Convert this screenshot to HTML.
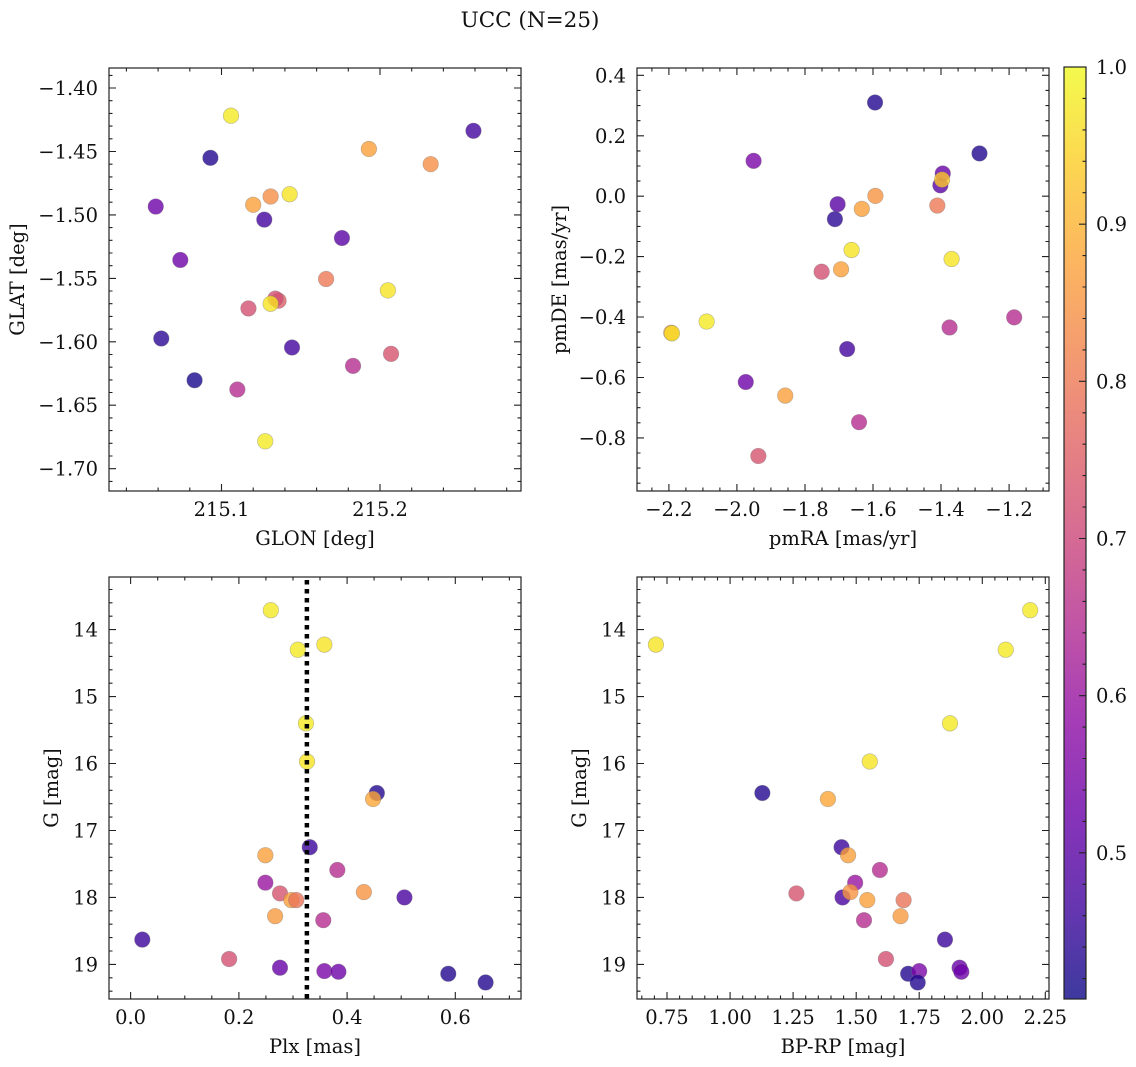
<!DOCTYPE html>
<html><head><meta charset="utf-8">
<style>
html,body{margin:0;padding:0;background:#fff;}
svg{display:block;font-family:"DejaVu Serif","Liberation Serif",serif;}
</style></head>
<body>
<svg id="fig" width="1136" height="1067" viewBox="0 0 1136 1067" xmlns="http://www.w3.org/2000/svg">
<text x="530" y="27" font-size="21.5" text-anchor="middle" fill="#111">UCC (N=25)</text>
</svg>
<script>
// ---- data: sky positions ----
const glon = [215.106,215.259,215.093,215.193,215.232,215.0585,215.120,215.131,215.143,215.127,215.176,215.074,215.166,215.205,215.136,215.134,215.131,215.117,215.062,215.1445,215.207,215.183,215.083,215.110,215.1276];
const glat = [-1.4218,-1.4337,-1.4550,-1.448,-1.460,-1.4934,-1.492,-1.4855,-1.4837,-1.5037,-1.5182,-1.5355,-1.5505,-1.5595,-1.5676,-1.566,-1.570,-1.5737,-1.5974,-1.6045,-1.6095,-1.619,-1.6303,-1.6376,-1.6784];
const probSky = [0.98,0.47,0.43,0.87,0.84,0.53,0.87,0.84,0.97,0.47,0.50,0.53,0.80,0.97,0.75,0.72,0.97,0.72,0.44,0.47,0.73,0.65,0.42,0.65,0.98];
// ---- data: proper motions ----
const pmra = [-1.594,-1.287,-1.951,-1.395,-1.402,-1.397,-1.593,-1.704,-1.633,-1.712,-1.411,-1.663,-1.694,-1.751,-1.369,-2.089,-2.193,-2.191,-1.185,-1.375,-1.676,-1.974,-1.858,-1.641,-1.937];
const pmde = [0.310,0.1415,0.117,0.075,0.036,0.055,0.001,-0.0265,-0.042,-0.076,-0.031,-0.178,-0.242,-0.250,-0.208,-0.415,-0.452,-0.454,-0.401,-0.4345,-0.506,-0.615,-0.660,-0.748,-0.860];
const probPm = [0.43,0.43,0.55,0.52,0.50,0.93,0.85,0.50,0.87,0.44,0.80,0.97,0.87,0.72,0.97,0.98,0.87,0.96,0.65,0.65,0.47,0.53,0.87,0.65,0.73];
// ---- data: photometry ----
const plx  = [0.358,0.259,0.309,0.324,0.326,0.455,0.448,0.331,0.249,0.382,0.249,0.276,0.506,0.431,0.297,0.306,0.267,0.356,0.0216,0.182,0.587,0.358,0.656,0.276,0.384];
const bprp = [0.706,2.19,2.093,1.872,1.554,1.128,1.388,1.442,1.468,1.594,1.496,1.263,1.446,1.477,1.544,1.688,1.676,1.531,1.852,1.618,1.706,1.750,1.744,1.910,1.917];
const gmag = [14.224,13.71,14.30,15.40,15.97,16.44,16.53,17.25,17.37,17.59,17.78,17.94,18.00,17.92,18.04,18.04,18.28,18.34,18.63,18.92,19.14,19.10,19.27,19.05,19.11];
const probPh = [0.97,0.98,0.98,0.98,0.97,0.43,0.88,0.46,0.87,0.65,0.60,0.73,0.48,0.85,0.87,0.79,0.86,0.65,0.46,0.72,0.43,0.55,0.43,0.52,0.53];
const plxMedian = 0.3257;
// ---- tick labels ----
const glonTicks = [215.1,215.2];
const glatTicks = [-1.40,-1.45,-1.50,-1.55,-1.60,-1.65,-1.70];
const pmraTicks = [-2.2,-2.0,-1.8,-1.6,-1.4,-1.2];
const pmdeTicks = [0.4,0.2,0.0,-0.2,-0.4,-0.6,-0.8];
const plxTicks = [0.0,0.2,0.4,0.6];
const bprpTicks = [0.75,1.00,1.25,1.50,1.75,2.00,2.25];
const gTicks = [14,15,16,17,18,19];
const cbarTicks = [0.5,0.6,0.7,0.8,0.9,1.0];
const cmin = 0.407, cmax = 1.0;

const FS = 19.5;
const NS = "http://www.w3.org/2000/svg";
const svg = document.getElementById('fig');
function mk(tag, attrs, parent){
  const e = document.createElementNS(NS, tag);
  for (const k in attrs) e.setAttribute(k, attrs[k]);
  (parent||svg).appendChild(e);
  return e;
}
const stops = [[0,13,8,135],[0.1,65,4,157],[0.2,106,0,168],[0.3,143,13,164],[0.4,177,42,144],[0.5,204,71,120],[0.6,225,100,98],[0.7,242,132,75],[0.8,252,166,54],[0.9,252,206,37],[1,240,249,33]];
function plasma(t){
  t = Math.max(0, Math.min(1, t));
  for (let i=1;i<stops.length;i++){
    if (t <= stops[i][0]){
      const a = stops[i-1], b = stops[i], f = (t-a[0])/(b[0]-a[0]);
      return `rgb(${Math.round(a[1]+(b[1]-a[1])*f)},${Math.round(a[2]+(b[2]-a[2])*f)},${Math.round(a[3]+(b[3]-a[3])*f)})`;
    }
  }
  return 'rgb(240,249,33)';
}
function cnorm(v){ return (v-cmin)/(cmax-cmin); }
function fmt(v, d){ const s = v.toFixed(d); return s.startsWith('-') ? '\u2212'+s.slice(1) : s; }

function panel(o){
  const g = mk('g', {});
  
  
  const X = v => o.x0 + (v - o.xmin)/(o.xmax - o.xmin)*(o.x1 - o.x0);
  const Y = o.yrev ? (v => o.y0 + (v - o.ymin)/(o.ymax - o.ymin)*(o.y1 - o.y0))
                   : (v => o.y1 - (v - o.ymin)/(o.ymax - o.ymin)*(o.y1 - o.y0));
  for (let i=0;i<o.xs.length;i++){
    const c = mk('circle', {cx:X(o.xs[i]).toFixed(2), cy:Y(o.ys[i]).toFixed(2), r:7.8, fill:plasma(cnorm(o.cs[i])), 'fill-opacity':0.8, stroke:'#777', 'stroke-opacity':0.5, 'stroke-width':0.6}, g);
    
    
  }
  if (o.vline !== undefined){
    const l = mk('line', {x1:X(o.vline), x2:X(o.vline), y1:o.y0+3, y2:o.y1, stroke:'#000', 'stroke-width':4.5, 'stroke-dasharray':'4.5 4.5'}, g);
    
    
  }
  const f = mk('rect', {x:o.x0, y:o.y0, width:o.x1-o.x0, height:o.y1-o.y0, fill:'none', stroke:'#222', 'stroke-width':1.2}, g);
  
  
  let p = '';
  const eps = 1e-9;
  for (let v = Math.ceil(o.xmin/o.xminor - eps)*o.xminor; v <= o.xmax+eps; v += o.xminor){
    const x = X(v).toFixed(1); p += `M${x},${o.y1}v-3.5M${x},${o.y0}v3.5`;
  }
  for (let v = Math.ceil(Math.min(o.ymin,o.ymax)/o.yminor - eps)*o.yminor; v <= Math.max(o.ymin,o.ymax)+eps; v += o.yminor){
    const y = Y(v).toFixed(1); p += `M${o.x0},${y}h3.5M${o.x1},${y}h-3.5`;
  }
  o.xticks.forEach(v => {
    const x = X(v).toFixed(1); p += `M${x},${o.y1}v-7M${x},${o.y0}v7`;
    const t = mk('text', {x:x, y:o.y1+25, 'font-size':FS, 'text-anchor':'middle', fill:'#111'}, g);
    t.textContent = fmt(v, o.xdec);
    
    
  });
  o.yticks.forEach(v => {
    const y = Y(v).toFixed(1); p += `M${o.x0},${y}h7M${o.x1},${y}h-7`;
    const t = mk('text', {x:o.x0-11, y:+y+7, 'font-size':FS, 'text-anchor':'end', fill:'#111'}, g);
    t.textContent = fmt(v, o.ydec);
    
    
  });
  const tk = mk('path', {d:p, stroke:'#222', 'stroke-width':1.1, fill:'none'}, g);
  
  
  const xl = mk('text', {x:(o.x0+o.x1)/2, y:o.y1+54, 'font-size':FS, 'text-anchor':'middle', fill:'#111'}, g);
  xl.textContent = o.xlabel;
  
  
  const yc = (o.y0+o.y1)/2;
  const yl = mk('text', {x:o.ylx, y:yc, 'font-size':FS, 'text-anchor':'middle', fill:'#111', transform:`rotate(-90 ${o.ylx} ${yc})`}, g);
  yl.textContent = o.ylabel;
  
  
}

panel({name:'sky-panel', x0:109, x1:521, y0:68, y1:491, xmin:215.029, xmax:215.289, ymin:-1.7176, ymax:-1.3842,
  xs:glon, ys:glat, cs:probSky, xticks:glonTicks, yticks:glatTicks, xdec:1, ydec:2, xminor:0.02, yminor:0.01,
  xlabel:'GLON [deg]', ylabel:'GLAT [deg]', ylx:24});
panel({name:'pm-panel', x0:637, x1:1049, y0:68, y1:491, xmin:-2.2937, xmax:-1.0827, ymin:-0.9758, ymax:0.4243,
  xs:pmra, ys:pmde, cs:probPm, xticks:pmraTicks, yticks:pmdeTicks, xdec:1, ydec:1, xminor:0.05, yminor:0.05,
  xlabel:'pmRA [mas/yr]', ylabel:'pmDE [mas/yr]', ylx:566});
panel({name:'plx-panel', x0:109, x1:521, y0:577, y1:999, xmin:-0.040, xmax:0.7214, ymin:13.214, ymax:19.517, yrev:true,
  xs:plx, ys:gmag, cs:probPh, xticks:plxTicks, yticks:gTicks, xdec:1, ydec:0, xminor:0.05, yminor:0.2,
  xlabel:'Plx [mas]', ylabel:'G [mag]', ylx:58, vline:plxMedian});
panel({name:'cmd-panel', x0:637, x1:1049, y0:577, y1:999, xmin:0.631, xmax:2.2645, ymin:13.214, ymax:19.517, yrev:true,
  xs:bprp, ys:gmag, cs:probPh, xticks:bprpTicks, yticks:gTicks, xdec:2, ydec:0, xminor:0.05, yminor:0.2,
  xlabel:'BP-RP [mag]', ylabel:'G [mag]', ylx:586});

const cb = mk('g', {});


const defs = mk('defs', {}, cb);
const lg = mk('linearGradient', {id:'cbg', x1:0, y1:1, x2:0, y2:0}, defs);
for (let i=0;i<=20;i++){
  const v = cmin + (cmax-cmin)*i/20;
  mk('stop', {offset:(i/20), 'stop-color':plasma(cnorm(v)), 'stop-opacity':0.8}, lg);
}
const cbx0=1064, cbx1=1086, cby0=67, cby1=999;
const CY = v => cby1 - (v-cmin)/(cmax-cmin)*(cby1-cby0);
mk('rect', {x:cbx0, y:cby0, width:cbx1-cbx0, height:cby1-cby0, fill:'url(#cbg)', stroke:'#222', 'stroke-width':1.2}, cb);
let cp = '';
for (let v = 0.42; v <= cmax+1e-9; v += 0.02) cp += `M${cbx1},${CY(v).toFixed(1)}h-3.5`;
cbarTicks.forEach(v => {
  const y = CY(v);
  cp += `M${cbx1},${y.toFixed(1)}h-7`;
  const t = mk('text', {x:1096, y:(y+7).toFixed(1), 'font-size':FS, fill:'#111'}, cb);
  t.textContent = v.toFixed(1);
  
  
});
mk('path', {d:cp, stroke:'#222', 'stroke-width':1.1, fill:'none'}, cb);
</script>
</body></html>
